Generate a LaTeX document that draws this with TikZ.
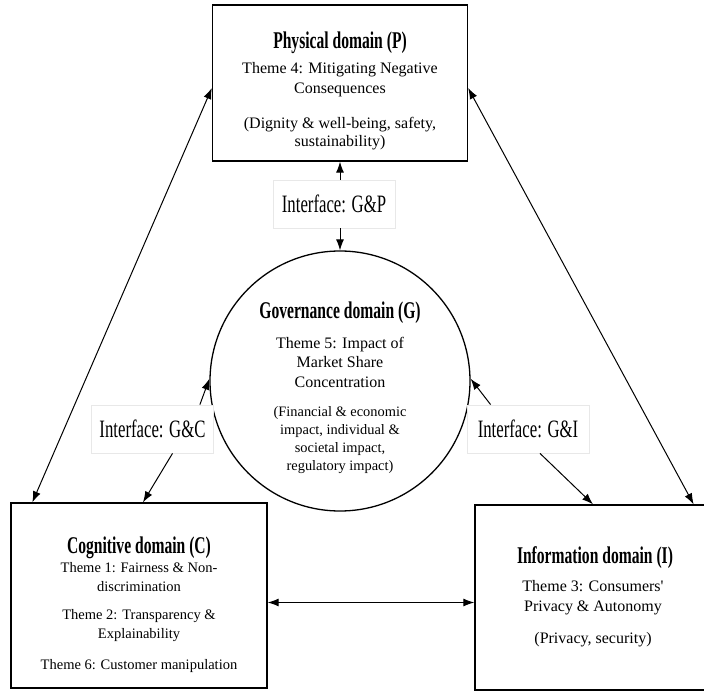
\documentclass[tikz,border=0pt]{standalone}
\usepackage{fontspec}
\setmainfont{Liberation Serif}
\newfontfamily\narrowfont[FakeStretch=0.65]{Liberation Serif}
\newfontfamily\ifacefont[FakeStretch=0.67]{Liberation Serif}
\usetikzlibrary{arrows.meta}

\begin{document}
\begin{tikzpicture}[x=1pt,y=-1pt,
  dombox/.style={draw,line width=1.3pt,inner sep=0pt},
  iface/.style={draw=gray!18,fill=white,line width=0.8pt,minimum width=122pt,
    minimum height=48pt,inner sep=0pt,font=\ifacefont\fontsize{25}{28}\selectfont},
  domtitle/.style={inner sep=0pt,font=\narrowfont\bfseries\fontsize{24}{28}\selectfont},
  txt/.style={align=center,inner sep=0pt,font=\fontsize{16}{20}\selectfont},
  small/.style={align=center,inner sep=0pt,font=\fontsize{14.5}{19}\selectfont},
  link/.style={line width=1pt,-{Latex[length=11pt,width=8pt]}},
  both/.style={line width=1pt,{Latex[length=11pt,width=8pt]}-{Latex[length=11pt,width=8pt]}}]
  \useasboundingbox (0,0) rectangle (704,692);

  % the four domains
  \node[dombox,minimum width=255pt,minimum height=156pt] (phys) at (340,83) {};
  \node[dombox,circle,minimum size=260pt] (gov) at (340,381) {};
  \node[dombox,minimum width=256pt,minimum height=185pt] (cog) at (139,595.5) {};
  \node[dombox,minimum width=236pt,minimum height=185pt] (info) at (593,597.5) {};

  % physical
  \node[domtitle] (ptitle) at (340,43) {Physical domain (P)};
  \node[txt] (ptheme) at (340,80) {Theme 4: Mitigating Negative\\Consequences};
  \node[txt,font=\fontsize{16}{18}\selectfont] (pnote) at (340,134) {(Dignity \& well-being, safety,\\sustainability)};

  % governance
  \node[domtitle] (gtitle) at (340,313) {Governance domain (G)};
  \node[txt,font=\fontsize{16}{19.5}\selectfont] (gtheme) at (340,362) {Theme 5: Impact of\\Market Share\\Concentration};
  \node[small,font=\fontsize{14.4}{18}\selectfont] (gnote) at (340,440) {(Financial \& economic\\impact, individual \&\\societal impact,\\regulatory impact)};

  % cognitive
  \node[domtitle] (ctitle) at (139,548) {Cognitive domain (C)};
  \node[small] (ctheme1) at (139,577.5) {Theme 1: Fairness \& Non-\\discrimination};
  \node[small] (ctheme2) at (139,626) {Theme 2: Transparency \&\\Explainability};
  \node[small] (ctheme6) at (139,666) {Theme 6: Customer manipulation};

  % information
  \node[domtitle] (ititle) at (595,558) {Information domain (I)};
  \node[txt] (itheme) at (593,598) {Theme 3: Consumers\textquotesingle\\Privacy \& Autonomy};
  \node[txt] (inote) at (593,640) {(Privacy, security)};

  % interfaces
  \node[iface] (gp) at (334,204) {Interface: G\&P};
  \node[iface] (gc) at (152.5,429) {Interface: G\&C};
  \node[iface] (gi) at (528,429) {Interface: G\&I};

  \draw[link] (gp.north -| phys.south) -- (phys.south);
  \draw[link] (gp.south -| gov.north) -- (gov.north);
  \draw[link] ([xshift=-14pt]gc.north east) -- (gov.179);
  \draw[link] ([xshift=20pt]gc.south) -- ([xshift=4pt]cog.north);
  \draw[link] ([xshift=24pt]gi.north west) -- (gov.1);
  \draw[link] ([xshift=12pt]gi.south) -- (info.north);

  \draw[both] ([yshift=-5pt]phys.west) -- ([xshift=22pt]cog.north west);
  \draw[both] ([yshift=-5pt]phys.east) -- ([xshift=-18pt]info.north east);
  \draw[both] ([yshift=-7pt]cog.east) -- ([yshift=-7pt]cog.east -| info.west);
\end{tikzpicture}
\end{document}
